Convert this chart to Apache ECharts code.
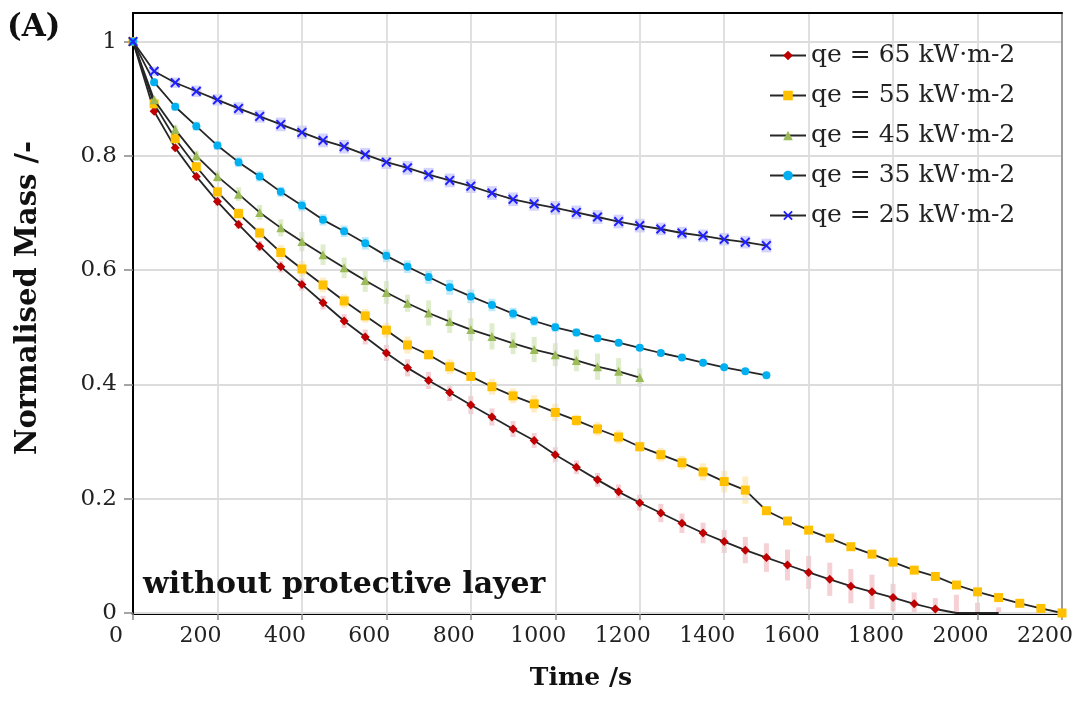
<!DOCTYPE html>
<html><head><meta charset="utf-8">
<script src="https://cdn.jsdelivr.net/npm/echarts@6/dist/echarts.min.js"></script>
<style>html,body{margin:0;padding:0;background:#fff}#c{width:1087px;height:720px}</style>
</head><body><div id="c"></div>
<script>
const FONT = 'DejaVu Serif';
const times = [0,50,100,150,200,250,300,350,400,450,500,550,600,650,700,750,800,850,900,950,1000,1050,1100,1150,1200,1250,1300,1350,1400,1450,1500,1550,1600,1650,1700,1750,1800,1850,1900,1950,2000,2050,2100,2150,2200];
const xTicks = [0,200,400,600,800,1000,1200,1400,1600,1800,2000,2200];
const yTicks = [0,0.2,0.4,0.6,0.8,1];
const names = ['qe = 65 kW·m-2','qe = 55 kW·m-2','qe = 45 kW·m-2','qe = 35 kW·m-2','qe = 25 kW·m-2'];

const q65 = [1,0.878,0.814,0.764,0.720,0.680,0.642,0.606,0.575,0.543,0.511,0.483,0.455,0.429,0.407,0.386,0.364,0.343,0.322,0.302,0.277,0.255,0.233,0.212,0.193,0.175,0.157,0.140,0.125,0.110,0.097,0.084,0.071,0.059,0.047,0.037,0.027,0.016,0.007,0,0,0];
const q55 = [1,0.891,0.830,0.781,0.737,0.699,0.665,0.631,0.602,0.574,0.546,0.520,0.495,0.469,0.452,0.431,0.414,0.396,0.380,0.366,0.351,0.337,0.322,0.308,0.291,0.277,0.263,0.247,0.230,0.215,0.179,0.161,0.145,0.131,0.116,0.103,0.089,0.075,0.064,0.049,0.037,0.027,0.017,0.008,0];
const q45 = [1,0.898,0.846,0.800,0.764,0.733,0.701,0.674,0.650,0.627,0.604,0.582,0.561,0.542,0.525,0.510,0.496,0.484,0.472,0.461,0.452,0.442,0.431,0.423,0.412];
const q35 = [1,0.929,0.886,0.852,0.818,0.789,0.764,0.737,0.713,0.688,0.668,0.647,0.625,0.606,0.588,0.570,0.554,0.539,0.524,0.511,0.500,0.491,0.481,0.473,0.464,0.455,0.447,0.438,0.430,0.423,0.416];
const q25 = [1,0.948,0.928,0.913,0.898,0.883,0.869,0.855,0.841,0.827,0.816,0.802,0.789,0.779,0.767,0.757,0.747,0.735,0.724,0.716,0.709,0.701,0.693,0.685,0.678,0.672,0.665,0.660,0.654,0.649,0.643];

// error half-widths
const e65 = [0,0.005,0.006,0.007,0.008,0.008,0.009,0.010,0.011,0.012,0.012,0.013,0.014,0.015,0.015,0.015,0.016,0.015,0.014,0.013,0.013,0.012,0.012,0.013,0.014,0.016,0.017,0.018,0.020,0.023,0.025,0.027,0.029,0.029,0.030,0.030,0.024,0.020,0.019,0.032,0.018,0.010];
const e55 = [0,0.006,0.008,0.008,0.009,0.010,0.010,0.013,0.014,0.013,0.012,0.012,0.013,0.015,0.009,0.013,0.008,0.014,0.013,0.015,0.015,0.010,0.012,0.012,0.009,0.012,0.012,0.015,0.019,0.024,0.004,0.006,0.004,0.004,0.004,0.006,0.004,0.004,0.005,0.004,0.005,0.004,0.004,0.004,0];
const e45 = [0,0.006,0.008,0.009,0.010,0.012,0.013,0.015,0.017,0.018,0.018,0.020,0.020,0.015,0.022,0.020,0.020,0.023,0.019,0.022,0.020,0.019,0.023,0.023,0.016];
const e35 = [0,0.006,0.007,0.008,0.008,0.009,0.009,0.009,0.010,0.010,0.010,0.011,0.011,0.011,0.012,0.013,0.012,0.011,0.010,0.009,0.008,0.007,0.006,0.005,0.005,0.004,0.003,0.003,0.003,0.003,0.003];
const e25 = [0,0.008,0.009,0.010,0.010,0.011,0.011,0.012,0.012,0.012,0.012,0.012,0.012,0.012,0.012,0.012,0.012,0.012,0.012,0.012,0.012,0.012,0.012,0.012,0.012,0.011,0.011,0.011,0.011,0.011,0.012];

const values = [q65,q55,q45,q35,q25];
const errs = [e65,e55,e45,e35,e25];
const markerColors = ['#c00000','#ffc000','#9bbb59','#00b0f0','#1f1fff'];
const barColors = ['rgba(215,60,75,0.24)','rgba(255,195,40,0.28)','rgba(150,195,90,0.30)','rgba(0,176,240,0.26)','rgba(90,90,255,0.26)'];
const barWidths = [5,6,5,7,10];
const symbols = ['diamond','rect','triangle','circle','path://M0,1.4L1.4,0L5,3.6L8.6,0L10,1.4L6.4,5L10,8.6L8.6,10L5,6.4L1.4,10L0,8.6L3.6,5Z'];
const symbolSizes = [9,9,9,8,10];

const series = [];
values.forEach((vals, k) => {
  const ed = vals.map((v, i) => [times[i], v - errs[k][i], v + errs[k][i]]);
  series.push({
    type: 'custom', silent: true, z: 1, clip: true,
    data: ed,
    renderItem: (params, api) => {
      const x = api.value(0);
      const p1 = api.coord([x, api.value(2)]);
      const p2 = api.coord([x, api.value(1)]);
      const w = barWidths[k];
      const rect = echarts.graphic.clipRectByRect(
        {x: p1[0] - w/2, y: p1[1], width: w, height: p2[1] - p1[1]},
        {x: params.coordSys.x, y: params.coordSys.y, width: params.coordSys.width, height: params.coordSys.height});
      if (!rect) return null;
      return {type: 'rect', shape: rect, style: {fill: barColors[k]}};
    }
  });
});
values.forEach((vals, k) => {
  series.push({
    name: names[k], type: 'line', z: 3 + k,
    data: vals.map((v, i) => [times[i], v]),
    symbol: symbols[k],
    symbolSize: (val) => (k === 0 && val[1] === 0 ? 0 : symbolSizes[k]),
    showAllSymbol: true,
    lineStyle: {color: '#262626', width: 1.8},
    itemStyle: {color: markerColors[k]},
    emphasis: {disabled: true},
    animation: false
  });
});

const chart = echarts.init(document.getElementById('c'), null, {renderer: 'canvas'});
chart.setOption({
  animation: false,
  backgroundColor: '#fff',
  grid: {left: 133, right: 25, top: 13, bottom: 107, containLabel: false},
  legend: {
    data: names, orient: 'vertical', left: 764, top: 38,
    itemWidth: 36, itemHeight: 12, itemGap: 15,
    textStyle: {fontFamily: FONT, fontSize: 25, color: '#222'}
  },
  xAxis: [{
    type: 'value', min: 0, max: 2200, interval: 200, z: 2,
    axisLine: {show: true, onZero: false, lineStyle: {color: '#000', width: 3}},
    axisTick: {show: true, length: 7, lineStyle: {color: '#888', width: 1.5}},
    axisLabel: {fontFamily: FONT, fontSize: 22, color: '#222', margin: 12, padding: [0, 34, 0, 0],
      formatter: (v) => String(v)},
    splitLine: {show: true, lineStyle: {color: '#d6d6d6', width: 1.5}}
  }, {
    type: 'value', min: 0, max: 2200, position: 'top', z: 5,
    axisLine: {show: true, onZero: false, lineStyle: {color: '#000', width: 2}},
    axisTick: {show: false}, axisLabel: {show: false}, splitLine: {show: false}
  }],
  yAxis: [{
    type: 'value', min: 0, max: 1.05, interval: 0.2, z: 3,
    axisLine: {show: true, onZero: false, lineStyle: {color: '#000', width: 2}},
    axisTick: {show: true, length: 9, lineStyle: {color: '#888', width: 1.5}},
    axisLabel: {fontFamily: FONT, fontSize: 23, color: '#222', margin: 16, showMaxLabel: false},
    splitLine: {show: true, lineStyle: {
      color: ['#dcdcdc','#dcdcdc','#dcdcdc','#dcdcdc','#dcdcdc','#dcdcdc','rgba(0,0,0,0)'], width: 2}}
  }, {
    type: 'value', min: 0, max: 1.05, position: 'right', z: 3,
    axisLine: {show: true, onZero: false, lineStyle: {color: '#9a9a9a', width: 2}},
    axisTick: {show: false}, axisLabel: {show: false}, splitLine: {show: false}
  }],
  graphic: [
    {type: 'text', left: 7, top: 12, style: {text: '(A)', font: 'bold 31px "DejaVu Serif"', fill: '#111'}},
    {type: 'text', x: 28, y: 298, rotation: Math.PI / 2,
      style: {text: 'Normalised Mass /-', font: 'bold 29px "DejaVu Serif"', fill: '#111', align: 'center', verticalAlign: 'middle'}},
    {type: 'text', x: 581, y: 678,
      style: {text: 'Time /s', font: 'bold 25px "DejaVu Serif"', fill: '#111', align: 'center', verticalAlign: 'middle'}},
    {type: 'text', x: 143, y: 585, z: 100,
      style: {text: 'without protective layer', font: 'bold 30px "DejaVu Serif"', fill: '#111', align: 'left', verticalAlign: 'middle'}}
  ],
  series: series
});
</script>
</body></html>
